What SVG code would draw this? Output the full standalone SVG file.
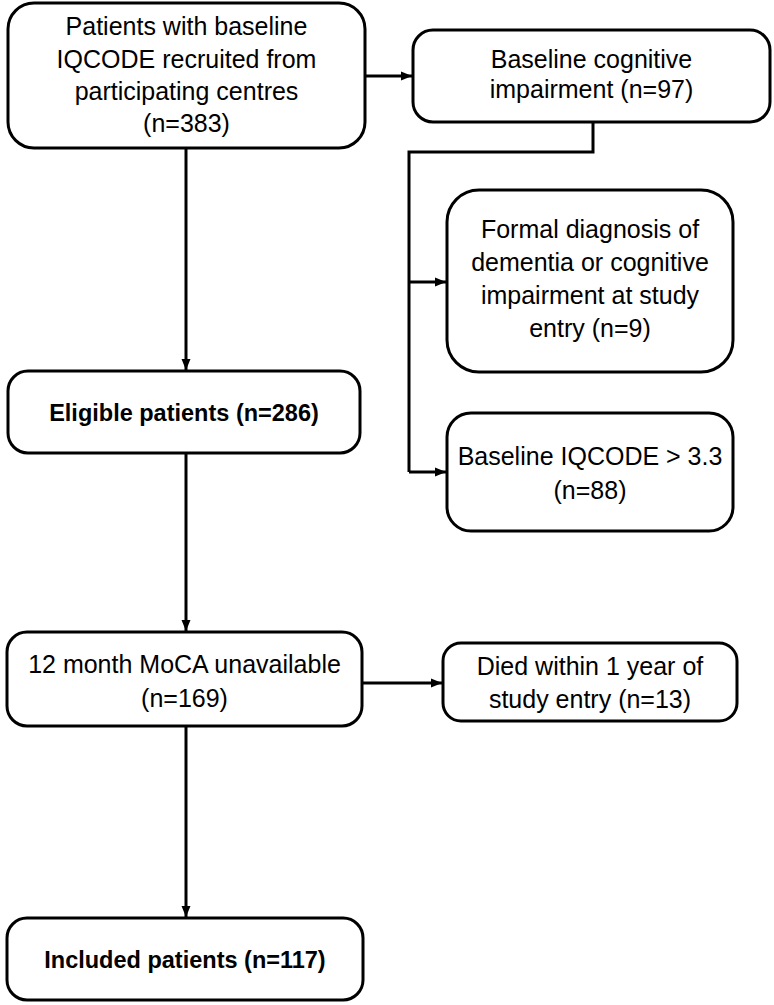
<svg xmlns="http://www.w3.org/2000/svg" width="774" height="1005" viewBox="0 0 774 1005">
<defs>
<style>
.box{fill:#fff;stroke:#000;stroke-width:3}
.t{font-family:"Liberation Sans",Arial,sans-serif;font-size:25px;fill:#000;text-anchor:middle}
.b{font-weight:bold;font-size:23.5px}
.c{fill:none;stroke:#000;stroke-width:3}
</style>
<marker id="ah" markerUnits="userSpaceOnUse" markerWidth="12" markerHeight="12" viewBox="0 0 12 12" refX="11" refY="6" orient="auto">
<path d="M0,1.5 L11,6 L0,10.5 Z" fill="#000"/>
</marker>
</defs>
<rect width="774" height="1005" fill="#fff"/>
<g id="connectors">
<path class="c" d="M186,148 V370" marker-end="url(#ah)"/>
<path class="c" d="M186,453 V631" marker-end="url(#ah)"/>
<path class="c" d="M186,726 V917" marker-end="url(#ah)"/>
<path class="c" d="M365,76 H412" marker-end="url(#ah)"/>
<path class="c" d="M593,122 V152 H409 V472"/>
<path class="c" d="M409,282 H446" marker-end="url(#ah)"/>
<path class="c" d="M409,472 H446" marker-end="url(#ah)"/>
<path class="c" d="M362,683 H442" marker-end="url(#ah)"/>
</g>
<g id="n1">
<rect class="box" x="8" y="3" width="357" height="145" rx="26"/>
<text class="t" x="186.5" y="35">Patients with baseline</text>
<text class="t" x="186.5" y="68">IQCODE recruited from</text>
<text class="t" x="186.5" y="100">participating centres</text>
<text class="t" x="186.5" y="132">(n=383)</text>
</g>
<g id="n2">
<rect class="box" x="413" y="30" width="357" height="92" rx="20"/>
<text class="t" x="591.5" y="68">Baseline cognitive</text>
<text class="t" x="591.5" y="98">impairment (n=97)</text>
</g>
<g id="n3">
<rect class="box" x="447" y="190" width="286" height="182" rx="32"/>
<text class="t" x="590" y="238">Formal diagnosis of</text>
<text class="t" x="590" y="271">dementia or cognitive</text>
<text class="t" x="590" y="304">impairment at study</text>
<text class="t" x="590" y="337">entry (n=9)</text>
</g>
<g id="n4">
<rect class="box" x="447" y="413" width="286" height="118" rx="24"/>
<text class="t" x="590" y="465">Baseline IQCODE &gt; 3.3</text>
<text class="t" x="590" y="499">(n=88)</text>
</g>
<g id="n5">
<rect class="box" x="8" y="371" width="352" height="82" rx="20"/>
<text class="t b" x="184" y="421">Eligible patients (n=286)</text>
</g>
<g id="n6">
<rect class="box" x="7" y="632" width="355" height="94" rx="20"/>
<text class="t" x="184.5" y="673">12 month MoCA unavailable</text>
<text class="t" x="184.5" y="707">(n=169)</text>
</g>
<g id="n7">
<rect class="box" x="443" y="643" width="294" height="78" rx="18"/>
<text class="t" x="590" y="675">Died within 1 year of</text>
<text class="t" x="590" y="708">study entry (n=13)</text>
</g>
<g id="n8">
<rect class="box" x="7" y="918" width="356" height="82" rx="20"/>
<text class="t b" x="185" y="968">Included patients (n=117)</text>
</g>
</svg>
